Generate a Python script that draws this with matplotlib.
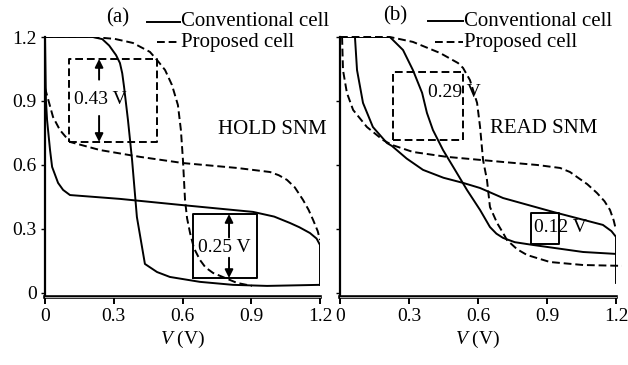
import matplotlib
matplotlib.use('Agg')
import matplotlib.pyplot as plt
from matplotlib.lines import Line2D

plt.rcParams['font.family'] = ['Liberation Serif', 'DejaVu Serif']
plt.rcParams['mathtext.fontset'] = 'custom'
plt.rcParams['mathtext.it'] = 'Liberation Serif:italic'

ticks = [0, 0.3, 0.6, 0.9, 1.2]
tick_labels = ['0', '0.3', '0.6', '0.9', '1.2']

# (a) HOLD SNM
hold_conv1_x = [0, 0.209, 0.25, 0.28, 0.31, 0.327, 0.337, 0.345, 0.362, 0.380, 0.401, 0.436, 0.489, 0.545, 0.676, 0.820, 0.969, 1.2]
hold_conv1_y = [1.2, 1.2, 1.19, 1.16, 1.115, 1.078, 1.03, 0.966, 0.811, 0.623, 0.356, 0.136, 0.098, 0.075, 0.052, 0.038, 0.033, 0.038]
hold_conv2_x = [0, 0.004, 0.009, 0.022, 0.031, 0.057, 0.079, 0.109, 0.327, 0.589, 0.908, 1.0, 1.069, 1.11, 1.156, 1.185, 1.2, 1.2]
hold_conv2_y = [1.2, 0.905, 0.811, 0.670, 0.591, 0.516, 0.483, 0.459, 0.441, 0.413, 0.380, 0.358, 0.328, 0.308, 0.281, 0.255, 0.225, 0.038]
hold_prop1_x = [0, 0.035, 0.065, 0.109, 0.240, 0.415, 0.602, 0.838, 0.982, 1.02, 1.056, 1.09, 1.126, 1.15, 1.170, 1.19, 1.2]
hold_prop1_y = [0.961, 0.825, 0.764, 0.708, 0.670, 0.638, 0.609, 0.586, 0.567, 0.552, 0.530, 0.495, 0.436, 0.39, 0.342, 0.29, 0.248]
hold_prop2_x = [0, 0.209, 0.305, 0.384, 0.458, 0.489, 0.524, 0.554, 0.580, 0.593, 0.602, 0.611, 0.62, 0.633, 0.65, 0.676, 0.70, 0.733, 0.838, 0.903]
hold_prop2_y = [1.2, 1.2, 1.191, 1.172, 1.130, 1.092, 1.045, 0.975, 0.881, 0.764, 0.623, 0.436, 0.35, 0.281, 0.21, 0.155, 0.12, 0.094, 0.047, 0.033]

# (b) READ SNM
read_conv1_x = [0, 0.217, 0.274, 0.317, 0.357, 0.378, 0.404, 0.448, 0.5, 0.552, 0.609, 0.652, 0.68, 0.709, 0.76, 0.839, 1.057, 1.2]
read_conv1_y = [1.2, 1.2, 1.139, 1.045, 0.938, 0.844, 0.764, 0.670, 0.577, 0.483, 0.389, 0.309, 0.278, 0.258, 0.238, 0.225, 0.192, 0.183]
read_conv2_x = [0.065, 0.074, 0.100, 0.143, 0.204, 0.226, 0.29, 0.361, 0.45, 0.535, 0.609, 0.709, 0.926, 1.143, 1.18, 1.2, 1.2]
read_conv2_y = [1.2, 1.045, 0.891, 0.778, 0.703, 0.689, 0.63, 0.577, 0.54, 0.516, 0.492, 0.445, 0.380, 0.319, 0.29, 0.263, 0.047]
read_prop1_x = [0.009, 0.013, 0.030, 0.057, 0.117, 0.187, 0.226, 0.317, 0.465, 0.709, 0.857, 0.957, 1.0, 1.030, 1.075, 1.117, 1.15, 1.174, 1.19, 1.2]
read_prop1_y = [1.2, 1.045, 0.938, 0.858, 0.778, 0.717, 0.694, 0.661, 0.638, 0.614, 0.600, 0.586, 0.567, 0.544, 0.51, 0.469, 0.43, 0.389, 0.34, 0.295]
read_prop2_x = [0, 0.217, 0.317, 0.435, 0.513, 0.535, 0.565, 0.596, 0.609, 0.622, 0.639, 0.652, 0.683, 0.709, 0.726, 0.77, 0.813, 0.913, 1.057, 1.226]
read_prop2_y = [1.2, 1.2, 1.177, 1.125, 1.078, 1.055, 0.998, 0.891, 0.778, 0.623, 0.530, 0.403, 0.328, 0.281, 0.248, 0.205, 0.178, 0.145, 0.131, 0.127]

# SNM boxes: (x0, x1, y0, y1)
hold_prop_box = (0.105, 0.489, 0.708, 1.097)
hold_conv_box = (0.646, 0.925, 0.070, 0.370)
read_prop_box = (0.230, 0.535, 0.717, 1.036)
read_conv_box = (0.830, 0.952, 0.230, 0.375)

W, H = 628, 365
fig = plt.figure(figsize=(W / 100, H / 100), dpi=100)

LW = 1.4
DASH = (4, 2)


def px(x, y):
    return x / W, 1 - y / H


def box(ax, b, dashed):
    x0, x1, y0, y1 = b
    ax.plot([x0, x1, x1, x0, x0], [y0, y0, y1, y1, y0], color='black', lw=LW,
            dashes=DASH if dashed else (None, None))


def setup(ax, labels):
    ax.set_xlim(0, 1.2)
    ax.set_ylim(-0.019, 1.2)
    for s in ['top', 'right']:
        ax.spines[s].set_visible(False)
    ax.spines['left'].set_linewidth(1.6)
    ax.spines['bottom'].set_linewidth(2.6)
    ax.axhline(-0.019, color='#b0b0b0', lw=0.7, clip_on=False, zorder=5)
    ax.set_xticks(ticks)
    ax.set_xticklabels(tick_labels, fontsize=14)
    ax.set_yticks(ticks)
    if labels:
        ax.set_yticklabels(tick_labels, fontsize=14)
    else:
        ax.set_yticklabels([])
    ax.tick_params(axis='x', direction='out', length=5, width=1.4, pad=3)
    ax.tick_params(axis='y', direction='out', length=3, width=1.0, pad=3)
    ax.set_xlabel('$V$ (V)', fontsize=14, labelpad=3)


# panel (a)
ax1 = fig.add_axes([45 / W, 68 / H, 275 / W, 260 / H])
setup(ax1, True)
ax1.plot(hold_conv1_x, hold_conv1_y, color='black', lw=LW)
ax1.plot(hold_conv2_x, hold_conv2_y, color='black', lw=LW)
ax1.plot(hold_prop1_x, hold_prop1_y, color='black', lw=LW, dashes=DASH)
ax1.plot(hold_prop2_x, hold_prop2_y, color='black', lw=LW, dashes=DASH)
box(ax1, hold_prop_box, True)
box(ax1, hold_conv_box, False)
arr = dict(arrowstyle='-|>', color='black', lw=1.4, mutation_scale=12, shrinkA=0, shrinkB=0)
ax1.annotate('', xy=(0.236, hold_prop_box[3]), xytext=(0.236, 1.0), arrowprops=arr)
ax1.annotate('', xy=(0.236, hold_prop_box[2]), xytext=(0.236, 0.83), arrowprops=arr)
ax1.text(0.240, 0.905, '0.43 V', fontsize=14, ha='center', va='center')
ax1.annotate('', xy=(0.803, hold_conv_box[3]), xytext=(0.803, 0.26), arrowprops=arr)
ax1.annotate('', xy=(0.803, hold_conv_box[2]), xytext=(0.803, 0.165), arrowprops=arr)
ax1.text(0.781, 0.211, '0.25 V', fontsize=14, ha='center', va='center')
ax1.text(0.991, 0.764, 'HOLD SNM', fontsize=15, ha='center', va='center')

# panel (b)
ax2 = fig.add_axes([340 / W, 68 / H, 276 / W, 260 / H])
setup(ax2, False)
ax2.plot(read_conv1_x, read_conv1_y, color='black', lw=LW)
ax2.plot(read_conv2_x, read_conv2_y, color='black', lw=LW)
ax2.plot(read_prop1_x, read_prop1_y, color='black', lw=LW, dashes=DASH)
ax2.plot(read_prop2_x, read_prop2_y, color='black', lw=LW, dashes=DASH, clip_on=False)
box(ax2, read_prop_box, True)
box(ax2, read_conv_box, False)
ax2.text(0.496, 0.938, '0.29 V', fontsize=14, ha='center', va='center')
ax2.text(0.957, 0.305, '0.12 V', fontsize=14, ha='center', va='center')
ax2.text(0.887, 0.773, 'READ SNM', fontsize=15, ha='center', va='center')

# panel labels and legends
for lab, lx, ly in [('(a)', 118, 18), ('(b)', 395, 16)]:
    fig.text(*px(lx, ly), lab, fontsize=15, ha='center', va='center')
for x0, x1, y, style, name in [(147, 180, 22, '-', 'Conventional cell'),
                               (157, 180, 42, '--', 'Proposed cell'),
                               (428, 463, 21, '-', 'Conventional cell'),
                               (435, 463, 42, '--', 'Proposed cell')]:
    a, b = px(x0, y)
    c, _ = px(x1, y)
    fig.add_artist(Line2D([a, c], [b, b], color='black', lw=LW,
                          dashes=DASH if style == '--' else (None, None)))
    fig.text(c + 1 / W, b, name, fontsize=15, ha='left', va='center')

fig.savefig('out.png', dpi=100)
